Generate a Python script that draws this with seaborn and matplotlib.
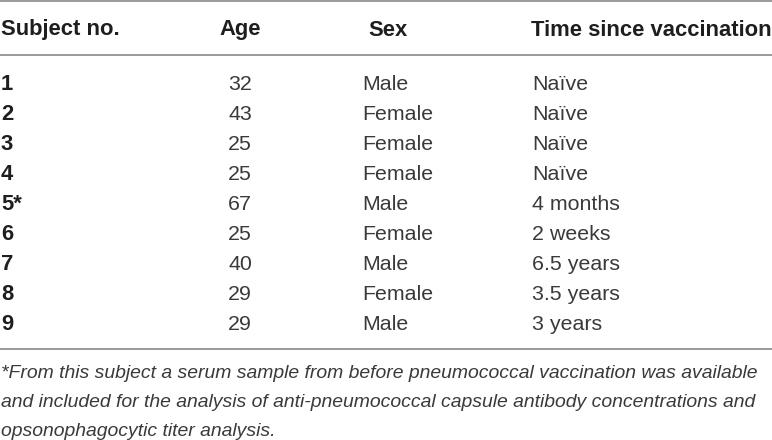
import matplotlib
matplotlib.use("Agg")
import matplotlib.pyplot as plt
import seaborn as sns

# table content
headers = ["Subject no.", "Age", "Sex", "Time since vaccination"]
subjects = ["1", "2", "3", "4", "5*", "6", "7", "8", "9"]
ages = [32, 43, 25, 25, 67, 25, 40, 29, 29]
sexes = ["Male", "Female", "Female", "Female", "Male", "Female", "Male", "Female", "Male"]
times = ["Naïve", "Naïve", "Naïve", "Naïve", "4 months", "2 weeks", "6.5 years", "3.5 years", "3 years"]
footnote = ["*From this subject a serum sample from before pneumococcal vaccination was available",
            "and included for the analysis of anti-pneumococcal capsule antibody concentrations and",
            "opsonophagocytic titer analysis."]

sns.set_theme(style="white")
plt.rcParams['font.family'] = ['Liberation Sans', 'DejaVu Sans']

fig = plt.figure(figsize=(7.72, 4.4), dpi=100)
ax = fig.add_axes([0, 0, 1, 1])
ax.set_xlim(0, 772)
ax.set_ylim(440, 0)
ax.axis("off")

line_col = "#9a9a9a"
txt_col = "#3a3a3a"
bold_col = "#1e1e1e"
fs_head = 15.8
fs = 15.4

# rules
for y in [1, 55, 349]:
    ax.plot([0, 772], [y, y], color=line_col, lw=1.4, solid_capstyle="butt")

# header
ax.text(1, 30, headers[0], fontsize=fs_head, fontweight="bold", color=bold_col, va="center", ha="left")
ax.text(240, 30, headers[1], fontsize=fs_head, fontweight="bold", color=bold_col, va="center", ha="center")
ax.text(388, 30, headers[2], fontsize=fs_head, fontweight="bold", color=bold_col, va="center", ha="center")
ax.text(531, 30, headers[3], fontsize=fs_head, fontweight="bold", color=bold_col, va="center", ha="left")

# rows
y0, dy = 85, 30
for i, (s, a, sx, t) in enumerate(zip(subjects, ages, sexes, times)):
    y = y0 + i * dy
    ax.text(1, y, s, fontsize=fs_head, fontweight="bold", color=bold_col, va="center", ha="left")
    ax.text(240, y, str(a), fontsize=fs, color=txt_col, va="center", ha="center")
    ax.text(362, y, sx, fontsize=fs, color=txt_col, va="center", ha="left")
    ax.text(532, y, t, fontsize=fs, color=txt_col, va="center", ha="left")

# footnote
for i, line in enumerate(footnote):
    ax.text(1, 374 + i * 28.5, line, fontsize=13.95, style="italic", color=txt_col, va="center", ha="left")

fig.savefig("out.png", dpi=100)
